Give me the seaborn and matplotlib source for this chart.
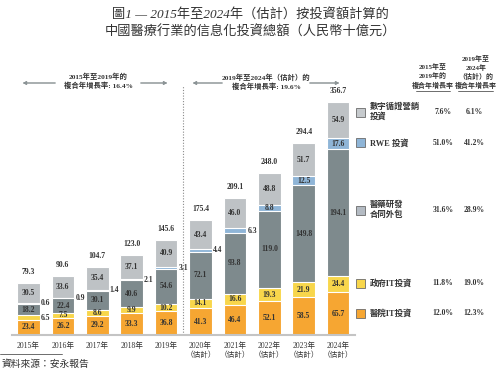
import seaborn as sns
import matplotlib.pyplot as plt
from matplotlib.patches import Rectangle
from matplotlib.lines import Line2D

# data (RMB billion)
years = ["2015", "2016", "2017", "2018", "2019", "2020", "2021", "2022", "2023", "2024"]
tick_labels = ["2015年", "2016年", "2017年", "2018年", "2019年",
               "2020年\n（估計）", "2021年\n（估計）", "2022年\n（估計）",
               "2023年\n（估計）", "2024年\n（估計）"]
hospital_it = [23.4, 26.2, 29.2, 33.3, 36.8, 41.3, 46.4, 52.1, 58.5, 65.7]
gov_it = [6.5, 7.5, 8.6, 9.9, 10.2, 14.1, 16.6, 19.3, 21.9, 24.4]
pharma_cro = [18.2, 22.4, 30.1, 40.6, 54.6, 72.1, 93.8, 119.0, 149.8, 194.1]
rwe = [0.6, 0.9, 1.4, 2.1, 3.1, 4.4, 6.3, 8.8, 12.5, 17.6]
digital_mkt = [30.5, 33.6, 35.4, 37.1, 40.9, 43.4, 46.0, 48.8, 51.7, 54.9]
totals = [79.3, 90.6, 104.7, 123.0, 145.6, 175.4, 209.1, 248.0, 294.4, 356.7]

series = [hospital_it, gov_it, pharma_cro, rwe, digital_mkt]
series_names = ["醫院IT投資", "政府IT投資", "醫藥研發\n合同外包", "RWE 投資", "數字循證營銷\n投資"]
colors = ["#F6A632", "#F8D64B", "#7E8A8D", "#8FB5D7", "#BEC2C5"]
legend_colors = ["#F6A632", "#F8D64B", "#B4BBC3", "#8FB5D7", "#C6CACD"]
cagr_1519 = ["12.0%", "11.8%", "31.6%", "51.0%", "7.6%"]
cagr_1924 = ["12.3%", "19.0%", "28.9%", "41.2%", "6.1%"]

sns.set_theme(style="white")
plt.rcParams["font.family"] = ["Liberation Serif", "Noto Sans CJK TC"]
TXT = "#333333"

W, H = 499, 377
def fx(px):
    return px / W
def fy(py):
    return 1 - py / H

fig = plt.figure(figsize=(4.99, 3.77), dpi=100)
ax = fig.add_axes([fx(12), fy(335), fx(343), 295 / H])

# stacked bars: draw cumulative sums from the top layer down
cums = []
run = [0.0] * len(years)
for s in series:
    run = [a + b for a, b in zip(run, s)]
    cums.append(list(run))
for k in range(len(series) - 1, -1, -1):
    sns.barplot(x=years, y=cums[k], color=colors[k], saturation=1, width=0.66,
                edgecolor="white", linewidth=0.8, errorbar=None, ax=ax)

ax.set_ylim(0, 451.6)
ax.set_xlim(-0.48, 9.49)
for sp in ["top", "right", "left"]:
    ax.spines[sp].set_visible(False)
ax.spines["bottom"].set_color("#C4C4C4")
ax.spines["bottom"].set_linewidth(1.5)
ax.set_yticks([])
ax.set_xticks(range(len(years)))
ax.set_xticklabels(tick_labels, fontsize=5.5, color=TXT, linespacing=1.1)
ax.tick_params(axis="x", length=0, pad=5)
ax.set_xlabel("")
ax.set_ylabel("")

# segment labels
outside = {(1, 0)} | {(3, i) for i in range(7)}
for k, s in enumerate(series):
    bottoms = [c - v for c, v in zip(cums[k], s)]
    for i, v in enumerate(s):
        yc = bottoms[i] + v / 2
        if (k, i) in outside:
            ax.text(i + 0.36, yc, f"{v:.1f}", ha="left", va="center",
                    fontsize=5.5, fontweight="bold", color=TXT)
        else:
            ax.text(i, yc, f"{v:.1f}", ha="center", va="center",
                    fontsize=5.5, fontweight="bold", color=TXT)
for i, t in enumerate(totals):
    ax.annotate(f"{t:.1f}", (i, t), xytext=(0, 5), textcoords="offset points",
                ha="center", va="bottom", fontsize=5.5, fontweight="bold", color=TXT)

# divider between actual and estimated years
ax.vlines(4.5, 0, 383, colors="#8A8A8A", linestyles=(0, (1, 1.5)), linewidth=0.8,
          clip_on=False)

# title
fig.text(fx(250), fy(15), "圖1 — 2015年至2024年（估計）按投資額計算的",
         ha="center", va="center", fontsize=9.5, style="italic", color=TXT)
fig.text(fx(250), fy(32), "中國醫療行業的信息化投資總額（人民幣十億元）",
         ha="center", va="center", fontsize=9.5, style="italic", color=TXT)

# CAGR arrows
def arrow(x0, x1, y):
    fig.add_artist(plt.annotate("", xy=(fx(x1), fy(y)), xytext=(fx(x0), fy(y)),
                                xycoords="figure fraction",
                                arrowprops=dict(arrowstyle="-|>", color="#8C9496",
                                                lw=0.7, mutation_scale=5)))
arrow(58, 20, 83)
arrow(138, 170, 83)
arrow(225, 190, 83)
arrow(307, 342, 83)
fig.text(fx(98), fy(81), "2015年至2019年的\n複合年增長率: 16.4%", ha="center", va="center",
         fontsize=5.3, fontweight="bold", color=TXT, linespacing=1.3)
fig.text(fx(266), fy(82), "2019年至2024年（估計）的\n複合年增長率: 19.6%", ha="center",
         va="center", fontsize=5.3, fontweight="bold", color=TXT, linespacing=1.3)

# legend + CAGR table
leg_y = [313, 283, 210, 143, 112]
for k in range(len(series)):
    y = leg_y[k]
    fig.add_artist(Rectangle((fx(356), fy(y + 4.5)), 9 / W, 9 / H, transform=fig.transFigure,
                             facecolor=legend_colors[k], edgecolor="#6B6B6B", linewidth=0.6))
    fig.text(fx(370), fy(y), series_names[k], ha="left", va="center", fontsize=6,
             fontweight="bold", color=TXT, linespacing=1.2)
    fig.text(fx(443), fy(y), cagr_1519[k], ha="center", va="center", fontsize=5.5,
             fontweight="bold", color=TXT)
    fig.text(fx(474), fy(y), cagr_1924[k], ha="center", va="center", fontsize=5.5,
             fontweight="bold", color=TXT)

fig.text(fx(433), fy(76), "2015年至\n2019年的\n複合年增長率", ha="center", va="center",
         fontsize=5, fontweight="bold", color=TXT, linespacing=1.35)
fig.text(fx(476), fy(72), "2019年至\n2024年\n（估計）的\n複合年增長率", ha="center",
         va="center", fontsize=5, fontweight="bold", color=TXT, linespacing=1.35)
fig.add_artist(Line2D([fx(416), fx(450)], [fy(91), fy(91)], color="#555555", lw=0.6))
fig.add_artist(Line2D([fx(458), fx(493)], [fy(91), fy(91)], color="#555555", lw=0.6))

# source note
fig.add_artist(Line2D([0, fx(62)], [fy(354), fy(354)], color="#555555", lw=0.6))
fig.text(fx(2), fy(364), "資料來源：安永報告", ha="left", va="center", fontsize=7,
         style="italic", color=TXT)

fig.savefig("out.png", dpi=100)
